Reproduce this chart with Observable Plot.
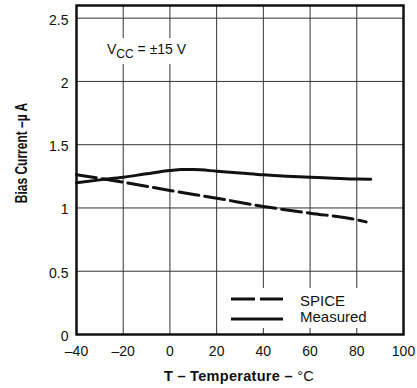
<!DOCTYPE html>
<html>
<head>
<meta charset="utf-8">
<script src="https://cdn.jsdelivr.net/npm/d3@7"></script>
<script src="https://cdn.jsdelivr.net/npm/@observablehq/plot@0.6"></script>
<style>
  html, body { margin: 0; padding: 0; background: #fff; }
  #chart { width: 417px; height: 388px; }
</style>
</head>
<body>
<div id="chart"></div>
<script>
// Data
const measuredT = [-40, -30, -20, -10, 0, 5, 10, 20, 30, 40, 50, 60, 70, 80, 86];
const measuredI = [1.199, 1.222, 1.243, 1.270, 1.296, 1.304, 1.303, 1.291, 1.277, 1.262, 1.251, 1.243, 1.235, 1.228, 1.227];
const spiceT = [-40, -20, 0, 20, 40, 60, 80, 84];
const spiceI = [1.262, 1.204, 1.138, 1.077, 1.012, 0.959, 0.907, 0.890];
const xTicks = [-40, -20, 0, 20, 40, 60, 80, 100];
const yTicks = [0, 0.5, 1, 1.5, 2, 2.5];
const xGrid = [-20, 0, 20, 40, 60, 80];
const yGrid = [0.5, 1, 1.5, 2, 2.5];
const seriesNames = ["SPICE", "Measured"];

const measured = measuredT.map((t, i) => ({t, v: measuredI[i]}));
const spice = spiceT.map((t, i) => ({t, v: spiceI[i]}));

const font = "'Liberation Sans', Arial, Helvetica, sans-serif";
const fmtX = d => d < 0 ? "\u2013" + (-d) : String(d);
const fmtY = d => String(d);

const plot = Plot.plot({
  width: 417,
  height: 388,
  marginLeft: 76,
  marginRight: 14,
  marginTop: 5,
  marginBottom: 54,
  x: {domain: [-40, 100]},
  y: {domain: [0, 2.6]},
  style: {fontFamily: font, fontSize: "14px", color: "#111", background: "#fff", overflow: "visible"},
  marks: [
    Plot.gridX(xGrid, {stroke: "#333", strokeOpacity: 1, strokeWidth: 1}),
    Plot.gridY(yGrid, {stroke: "#333", strokeOpacity: 1, strokeWidth: 1}),
    Plot.axisX(xTicks, {tickSize: 0, tickPadding: 12, tickFormat: fmtX, label: null, fill: "#111"}),
    Plot.axisY(yTicks, {tickSize: 0, tickPadding: 8, tickFormat: fmtY, label: null, fill: "#111", dy: 2}),
    Plot.line(spice, {x: "t", y: "v", stroke: "#111", strokeWidth: 3, strokeDasharray: "20,6", curve: "monotone-x"}),
    Plot.line(measured, {x: "t", y: "v", stroke: "#111", strokeWidth: 3, curve: "monotone-x"}),
    Plot.frame({stroke: "#111", strokeWidth: 2.5})
  ]
});

document.getElementById("chart").appendChild(plot);

const svg = d3.select(plot);

// white boxes behind annotation and legend (interrupting gridlines)
function box(x, y, w, h) {
  const r = document.createElementNS("http://www.w3.org/2000/svg", "rect");
  r.setAttribute("x", x); r.setAttribute("y", y);
  r.setAttribute("width", w); r.setAttribute("height", h);
  r.setAttribute("fill", "#fff");
  const gridY = svg.select("[aria-label=y-grid]").node();
  gridY.parentNode.insertBefore(r, gridY.nextSibling);
}
box(100, 38, 92, 26);
box(224, 288, 172, 40);

// annotation V_CC = ±15 V
const ann = svg.append("text")
  .attr("x", 107).attr("y", 54).attr("text-anchor", "start")
  .attr("font-family", font).attr("font-size", 14).attr("fill", "#111");
ann.append("tspan").text("V");
ann.append("tspan").attr("font-size", 12).attr("dy", 4).text("CC");
ann.append("tspan").attr("dy", -4).text(" = \u00B115 V");

// legend
const lg = svg.append("g").attr("fill", "none").attr("stroke", "#111").attr("stroke-width", 3);
lg.append("line").attr("x1", 231).attr("x2", 283).attr("y1", 299).attr("y2", 299).attr("stroke-dasharray", "24,5");
lg.append("line").attr("x1", 231).attr("x2", 283).attr("y1", 319).attr("y2", 319);
svg.append("text").attr("x", 300).attr("y", 305.5).attr("text-anchor", "start")
  .attr("font-family", font).attr("font-size", 15).attr("fill", "#111").text(seriesNames[0]);
svg.append("text").attr("x", 300).attr("y", 322).attr("text-anchor", "start")
  .attr("font-family", font).attr("font-size", 15).attr("fill", "#111").text(seriesNames[1]);

// axis titles
const xt = svg.append("text")
  .attr("x", 239).attr("y", 381).attr("text-anchor", "middle")
  .attr("font-family", font).attr("font-size", 14.5).attr("font-weight", "bold").attr("fill", "#111")
  .attr("letter-spacing", "0.3");
xt.append("tspan").text("T \u2013 Temperature \u2013 ");
xt.append("tspan").attr("font-weight", "normal").text("\u00B0C");

svg.append("text")
  .attr("transform", "translate(27,153) scale(1.3,1) rotate(-90)")
  .attr("text-anchor", "middle")
  .attr("font-family", font).attr("font-size", 12).attr("font-weight", "bold").attr("fill", "#111")
  .text("Bias Current \u2013\u00B5 A");
</script>
</body>
</html>
